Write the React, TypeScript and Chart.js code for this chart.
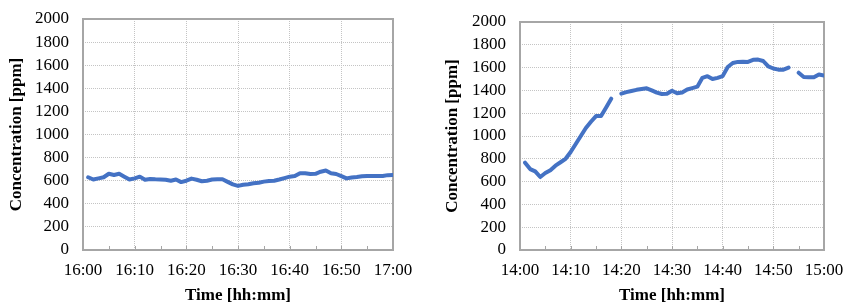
import React, { useEffect, useRef } from "react";
import { Chart, registerables } from "chart.js";

Chart.register(...registerables);

// ---- Data (minute offsets 1..60 after the start of each hour) ----
const leftTickLabels = ["16:00", "16:10", "16:20", "16:30", "16:40", "16:50", "17:00"];
const rightTickLabels = ["14:00", "14:10", "14:20", "14:30", "14:40", "14:50", "15:00"];
const yTickLabels = ["0", "200", "400", "600", "800", "1000", "1200", "1400", "1600", "1800", "2000"];

const leftValues: (number | null)[] = [
  630, 610, 620, 630, 660, 650, 660, 635, 610, 620,
  635, 608, 615, 612, 610, 608, 600, 610, 588, 600,
  618, 608, 595, 600, 610, 612, 612, 590, 568, 555,
  565, 570, 578, 582, 592, 598, 600, 610, 622, 635,
  640, 665, 665, 658, 660, 678, 688, 665, 658, 640,
  620, 628, 632, 638, 640, 640, 640, 640, 648, 650,
];

const rightValues: (number | null)[] = [
  766, 710, 690, 640, 675, 700, 740, 770, 800, 860,
  930, 1000, 1070, 1125, 1175, 1175, 1250, 1327, null, 1372,
  1385, 1395, 1405, 1412, 1418, 1400, 1380, 1368, 1370, 1397,
  1375, 1382, 1408, 1420, 1433, 1510, 1525, 1500, 1510, 1525,
  1605, 1640, 1650, 1652, 1650, 1668, 1670, 1658, 1610, 1592,
  1582, 1582, 1600, null, 1555, 1518, 1515, 1515, 1540, 1530,
];

const yTitle = "Concentration [ppm]";
const xTitle = "Time [hh:mm]";

const FONT = "'Liberation Serif', 'Times New Roman', serif";
const LINE_COLOR = "#4472C4";
const GRID_COLOR = "#c4c4c4";
const FRAME_COLOR = "#a6a6a6";

const framePlugin = {
  id: "frameTicks",
  beforeDatasetsDraw(chart: any) {
    const { ctx, chartArea } = chart;
    const xs = chart.scales.x;
    ctx.save();
    ctx.strokeStyle = FRAME_COLOR;
    ctx.lineWidth = 1;
    for (let m = 5; m < 60; m += 5) {
      const px = Math.round(xs.getPixelForValue(m)) + 0.5;
      ctx.beginPath();
      ctx.moveTo(px, chartArea.bottom);
      ctx.lineTo(px, chartArea.bottom - 4);
      ctx.stroke();
    }
    ctx.lineWidth = 2;
    ctx.strokeRect(chartArea.left, chartArea.top, chartArea.right - chartArea.left, chartArea.bottom - chartArea.top);
    ctx.restore();
  },
};

type Props = {
  width: number;
  height: number;
  values: (number | null)[];
  tickLabels: string[];
  areaLeft: number;
  padTop: number;
  padRight: number;
  titleX: number;
};

function ConcChart({ width, height, values, tickLabels, areaLeft, padTop, padRight, titleX }: Props) {
  const ref = useRef<HTMLCanvasElement | null>(null);
  useEffect(() => {
    if (!ref.current) return;
    const points = values.map((v, i) => ({ x: i + 1, y: v }));
    const chart = new Chart(ref.current, {
      type: "line",
      data: {
        datasets: [
          {
            data: points as any,
            borderColor: LINE_COLOR,
            backgroundColor: LINE_COLOR,
            borderWidth: 4,
            pointRadius: 0,
            tension: 0,
            spanGaps: false,
            borderJoinStyle: "round",
            borderCapStyle: "round",
          },
        ],
      },
      options: {
        responsive: false,
        animation: false,
        events: [],
        layout: { padding: { left: 0, top: padTop, right: padRight, bottom: 0 } },
        plugins: { legend: { display: false }, tooltip: { enabled: false } },
        scales: {
          x: {
            type: "linear",
            min: 0,
            max: 60,
            afterFit: (s: any) => {
              s.height = height - 250;
              s.paddingLeft = 0;
              s.paddingRight = 0;
            },
            ticks: {
              stepSize: 10,
              autoSkip: false,
              maxRotation: 0,
              padding: 10,
              color: "#000",
              font: { family: FONT, size: 17 },
              callback: (v: any) => tickLabels[Math.round(Number(v) / 10)] ?? "",
            },
            grid: {
              drawTicks: false,
              color: (c: any) => (c.tick && (c.tick.value === 0 || c.tick.value === 60) ? "transparent" : GRID_COLOR),
              lineWidth: 1,
            },
            border: { display: false, dash: [1, 1] },
            title: {
              display: true,
              text: xTitle,
              color: "#000",
              font: { family: FONT, size: 17, weight: "bold" },
              padding: { top: 0, bottom: 2 },
            },
          },
          y: {
            min: 0,
            max: 2000,
            afterFit: (s: any) => {
              s.width = areaLeft;
              s.paddingTop = 0;
              s.paddingBottom = 0;
            },
            ticks: {
              stepSize: 200,
              autoSkip: false,
              padding: 14,
              color: "#000",
              font: { family: FONT, size: 17 },
              callback: (v: any) => yTickLabels[Math.round(Number(v) / 200)] ?? "",
            },
            grid: {
              drawTicks: false,
              color: (c: any) => (c.tick && (c.tick.value === 0 || c.tick.value === 2000) ? "transparent" : GRID_COLOR),
              lineWidth: 1,
            },
            border: { display: false, dash: [1, 1] },
            title: {
              display: true,
              text: yTitle,
              color: "#000",
              font: { family: FONT, size: 17, weight: "bold" },
              padding: { top: titleX - 10.2, bottom: 0 },
            },
          },
        },
      },
      plugins: [framePlugin],
    });
    return () => chart.destroy();
  }, []);
  return <canvas ref={ref} width={width} height={height} style={{ width, height, display: "block" }} />;
}

export default function App() {
  return (
    <div style={{ position: "fixed", left: 0, top: 0, width: 843, height: 308, background: "#fff", display: "flex" }}>
      <ConcChart width={420} height={308} values={leftValues} tickLabels={leftTickLabels} areaLeft={83} padTop={19} padRight={27} titleX={17} />
      <ConcChart width={423} height={308} values={rightValues} tickLabels={rightTickLabels} areaLeft={100} padTop={22} padRight={19} titleX={33} />
    </div>
  );
}
